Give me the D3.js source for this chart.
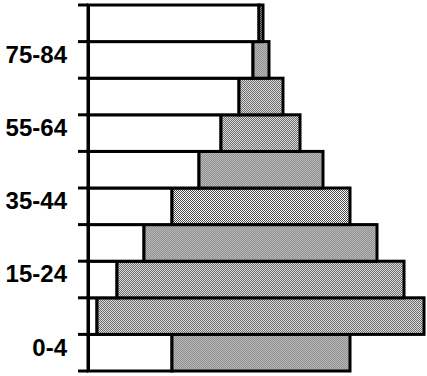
<!DOCTYPE html>
<html>
<head>
<meta charset="utf-8">
<script src="https://cdn.jsdelivr.net/npm/d3@7"></script>
<style>
  body { margin: 0; background: #fff; }
  .y.axis text { font-family: "Liberation Sans", Arial, sans-serif; font-weight: bold; font-size: 24px; fill: #000; }
  .y.axis .domain { stroke: #000; stroke-width: 3; }
</style>
</head>
<body>
<svg class="chart"></svg>
<script>
// age groups, bottom to top
var ages = ["0-4", "5-14", "15-24", "25-34", "35-44", "45-54", "55-64", "65-74", "75-84", "85+"];
var labelled = ["0-4", "15-24", "35-44", "55-64", "75-84"];
// where the shaded bar starts and ends (arbitrary units)
var starts = [84, 9, 29, 56, 84, 111, 133, 151, 165, 171];
var ends = [262, 336, 316, 289, 262, 235, 212, 195, 181, 175];

var data = ages.map(function(a, i) { return {age: a, start: starts[i], end: ends[i]}; });

var margin = {top: 5, right: 3, bottom: 5, left: 88},
    width = 427 - margin.left - margin.right,
    height = 376 - margin.top - margin.bottom;

var x = d3.scaleLinear()
    .domain([0, 336])
    .range([0, width]);

var y = d3.scaleBand()
    .domain(ages.slice().reverse())
    .range([0, height])
    .padding(0);

var svg = d3.select(".chart")
    .attr("width", 427)
    .attr("height", 376);

// dithered grey fill
var pat = svg.append("defs").append("pattern")
    .attr("id", "dots")
    .attr("width", 2).attr("height", 2)
    .attr("patternUnits", "userSpaceOnUse");
pat.append("rect").attr("width", 2).attr("height", 2).attr("fill", "#fff");
pat.append("rect").attr("width", 1).attr("height", 1).attr("fill", "#4a4a4a");
pat.append("rect").attr("x", 1).attr("y", 1).attr("width", 1).attr("height", 1).attr("fill", "#4a4a4a");

var chart = svg.append("g")
    .attr("transform", "translate(" + margin.left + "," + margin.top + ")");

var row = chart.selectAll("g.row")
    .data(data)
  .enter().append("g")
    .attr("class", "row")
    .attr("transform", function(d) { return "translate(0," + y(d.age) + ")"; });

// white part, axis to start
row.append("rect")
    .attr("x", x(0))
    .attr("width", function(d) { return x(d.start) - x(0); })
    .attr("height", y.bandwidth())
    .attr("fill", "#fff")
    .attr("stroke", "#000")
    .attr("stroke-width", 3);

// shaded part
row.append("rect")
    .attr("x", function(d) { return x(d.start); })
    .attr("width", function(d) { return x(d.end) - x(d.start); })
    .attr("height", y.bandwidth())
    .attr("fill", "url(#dots)")
    .attr("stroke", "#000")
    .attr("stroke-width", 3);

// tick marks at the row boundaries
var bounds = ages.map(function(a) { return y(a); }).concat([height]);
chart.selectAll("line.tick")
    .data(bounds)
  .enter().append("line")
    .attr("class", "tick")
    .attr("x1", -10).attr("x2", 0)
    .attr("y1", function(d) { return d; })
    .attr("y2", function(d) { return d; })
    .attr("stroke", "#000")
    .attr("stroke-width", 3);

var yAxis = d3.axisLeft(y)
    .tickSize(0)
    .tickPadding(21)
    .tickFormat(function(d) { return labelled.indexOf(d) >= 0 ? d : ""; });

chart.append("g")
    .attr("class", "y axis")
    .call(yAxis)
  .selectAll("text")
    .attr("dy", "0.62em")
    .attr("y", -12);
</script>
</body>
</html>
